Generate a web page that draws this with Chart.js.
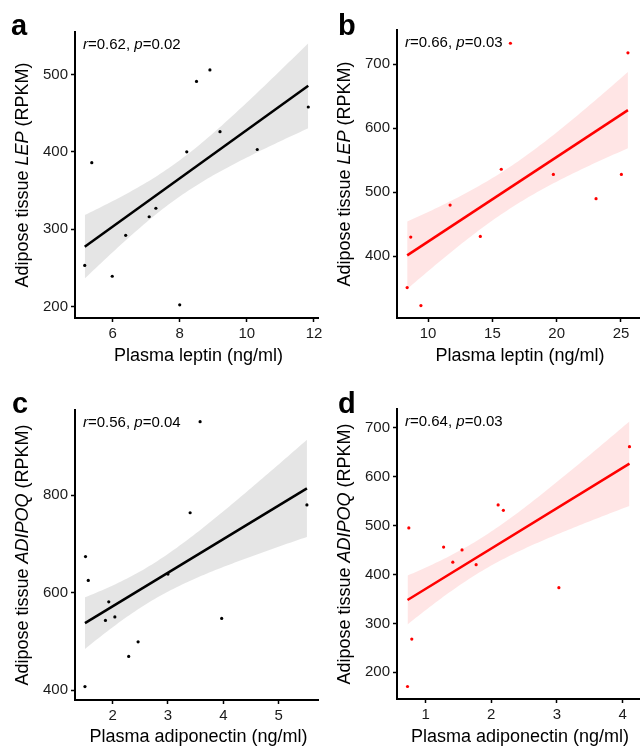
<!DOCTYPE html>
<html>
<head>
<meta charset="utf-8">
<script src="https://cdn.jsdelivr.net/npm/chart.js@4.4.1/dist/chart.umd.min.js"></script>
<style>
  body { margin: 0; background: #fff; }
  #figure { position: relative; width: 643px; height: 746px; }
  .panel { position: absolute; }
</style>
</head>
<body>
<div id="figure">
  <div class="panel" style="left:0;top:0;width:322px;height:372px"><canvas id="chartA"></canvas></div>
  <div class="panel" style="left:322px;top:0;width:321px;height:372px"><canvas id="chartB"></canvas></div>
  <div class="panel" style="left:0;top:372px;width:322px;height:374px"><canvas id="chartC"></canvas></div>
  <div class="panel" style="left:322px;top:372px;width:321px;height:374px"><canvas id="chartD"></canvas></div>
</div>
<script>
// Data
// a: plasma leptin vs adipose LEP
const leptinA = [5.17, 5.38, 5.99, 6.39, 7.09, 7.29, 8.0, 8.21, 8.5, 8.9, 9.2, 10.31, 11.83];
const lepA = [253, 386, 239, 292, 316, 327, 202, 400, 491, 506, 426, 403, 458];
// b: plasma leptin vs adipose LEP (red group)
const leptinB = [8.37, 8.65, 9.44, 11.71, 14.06, 15.69, 16.4, 19.74, 23.06, 25.03, 25.54];
const lepB = [351, 430, 323, 480, 431, 536, 733, 528, 490, 528, 718];
// c: plasma adiponectin vs adipose ADIPOQ
const adipoC = [1.5, 1.51, 1.56, 1.87, 1.93, 2.04, 2.29, 2.46, 3.0, 3.4, 3.58, 3.97, 5.51];
const adipoqC = [407, 674, 625, 543, 581, 550, 469, 499, 638, 764, 951, 547, 780];
// d: plasma adiponectin vs adipose ADIPOQ (red group)
const adipoD = [0.725, 0.745, 0.79, 1.275, 1.415, 1.555, 1.77, 2.105, 2.185, 3.03, 4.105];
const adipoqD = [171, 495, 268, 456, 425, 450, 420, 542, 531, 373, 661];

// Tick labels
const xTicksA = [6, 8, 10, 12];
const yTicksA = [200, 300, 400, 500];
const xTicksB = [10, 15, 20, 25];
const yTicksB = [400, 500, 600, 700];
const xTicksC = [2, 3, 4, 5];
const yTicksC = [400, 600, 800];
const xTicksD = [1, 2, 3, 4];
const yTicksD = [200, 300, 400, 500, 600, 700];

// Stats labels
const statsA = ["0.62", "0.02"];
const statsB = ["0.66", "0.03"];
const statsC = ["0.56", "0.04"];
const statsD = ["0.64", "0.03"];

const FONT = "'Liberation Sans', Arial, Helvetica, sans-serif";

// Band half-width in standard errors of the fit (measured on the figure, ~1 SE)
const bandSE = 1.05;

// Linear fit with confidence band (like geom_smooth(method = "lm"))
const linearFit = (xs, ys) => {
  const n = xs.length;
  const mx = xs.reduce((s, v) => s + v, 0) / n;
  const my = ys.reduce((s, v) => s + v, 0) / n;
  let sxx = 0, sxy = 0;
  xs.forEach((x, i) => {
    sxx += (x - mx) ** 2;
    sxy += (x - mx) * (ys[i] - my);
  });
  const b = sxy / sxx;
  const a = my - b * mx;
  let ss = 0;
  xs.forEach((x, i) => { ss += (ys[i] - a - b * x) ** 2; });
  const s = Math.sqrt(ss / (n - 2));
  const lo = Math.min(...xs), hi = Math.max(...xs);
  const line = [lo, hi].map((x) => ({ x, y: a + b * x }));
  const upper = [], lower = [];
  for (let i = 0; i <= 80; i++) {
    const x = lo + ((hi - lo) * i) / 80;
    const se = s * Math.sqrt(1 / n + (x - mx) ** 2 / sxx);
    upper.push({ x, y: a + b * x + bandSE * se });
    lower.push({ x, y: a + b * x - bandSE * se });
  }
  return { line, upper, lower };
};

// Draw text runs with mixed normal / italic styling
const drawRuns = (ctx, runs, x, y, size, align) => {
  const widths = runs.map(([txt, it]) => {
    ctx.font = `${it ? "italic " : ""}${size}px ${FONT}`;
    return ctx.measureText(txt).width;
  });
  const total = widths.reduce((s, w) => s + w, 0);
  let cx = align === "center" ? x - total / 2 : x;
  runs.forEach(([txt, it], i) => {
    ctx.font = `${it ? "italic " : ""}${size}px ${FONT}`;
    ctx.fillText(txt, cx, y);
    cx += widths[i];
  });
};

const panelText = {
  id: "panelText",
  afterDraw(chart, args, o) {
    const ctx = chart.ctx;
    const area = chart.chartArea;
    ctx.save();
    ctx.fillStyle = "#000";
    ctx.textAlign = "left";
    ctx.textBaseline = "alphabetic";
    // panel letter
    ctx.font = `bold 29px ${FONT}`;
    ctx.fillText(o.letter, o.letterX, o.letterY);
    // correlation label
    drawRuns(ctx, [["r", true], ["=" + o.stats[0] + ", ", false], ["p", true], ["=" + o.stats[1], false]],
      area.left + 8, area.top + 17, 15, "left");
    // x title
    drawRuns(ctx, [[o.xTitle, false]], (area.left + area.right) / 2 + 2, o.xTitleY, 18, "center");
    // y title (rotated)
    ctx.translate(28, (area.top + area.bottom) / 2);
    ctx.rotate(-Math.PI / 2);
    drawRuns(ctx, [["Adipose tissue ", false], [o.gene, true], [" (RPKM)", false]], 0, 0, 18, "center");
    ctx.restore();
  },
};

const makePanel = (id, cfg) => {
  const el = document.getElementById(id);
  const h = el.parentNode.clientHeight;
  const w = el.parentNode.clientWidth;
  const fit = linearFit(cfg.xs, cfg.ys);
  const pts = cfg.xs.map((x, i) => ({ x, y: cfg.ys[i] }));
  const axis = (ticks) => ({
    type: "linear",
    grid: { display: true, drawOnChartArea: false, drawTicks: true, tickLength: 4, tickColor: "#000", tickWidth: 1.5 },
    border: { display: true, color: "#000", width: 2 },
    ticks: { color: "#1a1a1a", padding: 3, font: { size: 15, family: FONT } },
    afterBuildTicks: (scale) => { scale.ticks = ticks.map((v) => ({ value: v })); },
  });
  const xAxis = { ...axis(cfg.xTicks), position: "bottom", min: cfg.xRange[0], max: cfg.xRange[1],
    afterFit: (scale) => { scale.height = h - cfg.area[3]; scale.paddingLeft = 0; scale.paddingRight = 0; } };
  const yAxis = { ...axis(cfg.yTicks), position: "left", min: cfg.yRange[0], max: cfg.yRange[1],
    afterFit: (scale) => { scale.width = cfg.area[0]; scale.paddingTop = 0; scale.paddingBottom = 0; } };

  return new Chart(el, {
    type: "scatter",
    data: {
      datasets: [
        { type: "line", data: fit.line, borderColor: cfg.color, borderWidth: 2.5, pointRadius: 0, order: 0 },
        { data: pts, backgroundColor: cfg.color, borderWidth: 0, pointRadius: 1.6, order: 1 },
        { type: "line", data: fit.upper, borderColor: "rgba(0,0,0,0)", borderWidth: 0, pointRadius: 0,
          fill: "+1", backgroundColor: cfg.band, order: 2 },
        { type: "line", data: fit.lower, borderColor: "rgba(0,0,0,0)", borderWidth: 0, pointRadius: 0,
          fill: false, order: 3 },
      ],
    },
    options: {
      responsive: true,
      maintainAspectRatio: false,
      animation: false,
      events: [],
      devicePixelRatio: 1,
      layout: { padding: { left: 0, top: cfg.area[1], right: w - cfg.area[2], bottom: 0 } },
      plugins: {
        legend: { display: false },
        tooltip: { enabled: false },
        panelText: { letter: cfg.letter, letterX: cfg.letterPos[0], letterY: cfg.letterPos[1],
          stats: cfg.stats, gene: cfg.gene, xTitle: cfg.xTitle, xTitleY: cfg.xTitleY },
      },
      scales: { x: xAxis, y: yAxis },
    },
    plugins: [panelText],
  });
};

// Initialize
const GREY_BAND = "rgba(0,0,0,0.1)";
const RED_BAND = "rgba(255,0,0,0.1)";

makePanel("chartA", {
  xs: leptinA, ys: lepA, xTicks: xTicksA, yTicks: yTicksA, xRange: [4.88, 12.12], yRange: [185, 555],
  area: [75, 32, 320, 318], color: "#000", band: GREY_BAND, letter: "a", letterPos: [11, 35],
  stats: statsA, gene: "LEP", xTitle: "Plasma leptin (ng/ml)", xTitleY: 361,
});
makePanel("chartB", {
  xs: leptinB, ys: lepB, xTicks: xTicksB, yTicks: yTicksB, xRange: [7.58, 26.4], yRange: [303.5, 753.7],
  area: [75, 30, 320, 318], color: "#ff0000", band: RED_BAND, letter: "b", letterPos: [16, 35],
  stats: statsB, gene: "LEP", xTitle: "Plasma leptin (ng/ml)", xTitleY: 361,
});
makePanel("chartC", {
  xs: adipoC, ys: adipoqC, xTicks: xTicksC, yTicks: yTicksC, xRange: [1.32, 5.71], yRange: [379.5, 975],
  area: [75, 38, 320, 328], color: "#000", band: GREY_BAND, letter: "c", letterPos: [12, 41],
  stats: statsC, gene: "ADIPOQ", xTitle: "Plasma adiponectin (ng/ml)", xTitleY: 370,
});
makePanel("chartD", {
  xs: adipoD, ys: adipoqD, xTicks: xTicksD, yTicks: yTicksD, xRange: [0.565, 4.25], yRange: [145.5, 738],
  area: [75, 37, 320, 327], color: "#ff0000", band: RED_BAND, letter: "d", letterPos: [16, 41],
  stats: statsD, gene: "ADIPOQ", xTitle: "Plasma adiponectin (ng/ml)", xTitleY: 370,
});
</script>
</body>
</html>
